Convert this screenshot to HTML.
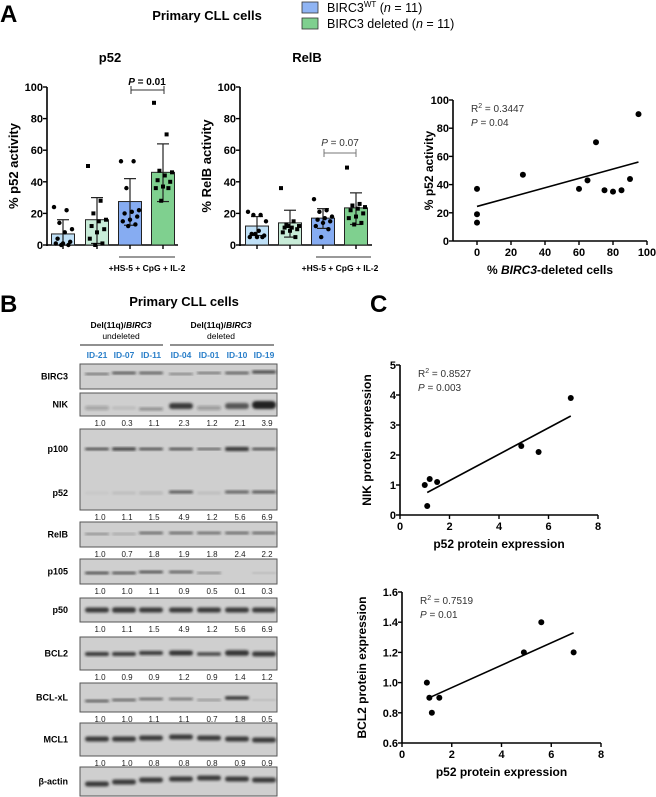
<!DOCTYPE html>
<html><head><meta charset="utf-8">
<style>
body{margin:0;background:#fff;}
svg{display:block;font-family:"Liberation Sans",Arial,sans-serif;}
.b{font-weight:bold;}
</style></head>
<body>
<svg id="fig" width="656" height="797" viewBox="0 0 656 797" xmlns="http://www.w3.org/2000/svg">
<defs><filter id="blur" x="-20%" y="-50%" width="140%" height="200%"><feGaussianBlur stdDeviation="1.3"/></filter></defs>
<text x="0" y="22" font-size="24" class="b">A</text>
<text x="207" y="20" font-size="13" class="b" text-anchor="middle">Primary CLL cells</text>
<rect x="302" y="2" width="16" height="11" fill="#8fb4f4" stroke="#333" stroke-width="0.8"/>
<text x="327" y="12" font-size="12.5">BIRC3<tspan font-size="8" dy="-5">WT</tspan><tspan dy="5"> (</tspan><tspan font-style="italic">n</tspan> = 11)</text>
<rect x="302" y="18" width="16" height="11" fill="#7fd08f" stroke="#333" stroke-width="0.8"/>
<text x="327" y="28" font-size="12.5">BIRC3 deleted (<tspan font-style="italic">n</tspan> = 11)</text>
<g id="charts"></g>
<text x="0" y="312" font-size="24" class="b">B</text>
<text x="184" y="306" font-size="13" class="b" text-anchor="middle">Primary CLL cells</text>
<text x="121" y="328" font-size="8.5" class="b" text-anchor="middle">Del(11q)/<tspan font-style="italic">BIRC3</tspan></text>
<text x="121" y="339" font-size="8.5" text-anchor="middle">undeleted</text>
<text x="221" y="328" font-size="8.5" class="b" text-anchor="middle">Del(11q)/<tspan font-style="italic">BIRC3</tspan></text>
<text x="221" y="339" font-size="8.5" text-anchor="middle">deleted</text>
<line x1="80" y1="345" x2="163" y2="345" stroke="#222" stroke-width="1"/>
<line x1="170" y1="345" x2="274" y2="345" stroke="#222" stroke-width="1"/>
<g id="blots"></g>
<text x="370" y="312" font-size="24" class="b">C</text>
</svg>
<script>
const NS="http://www.w3.org/2000/svg";
// ---- Panel A bar charts data ----
const barCats=["Unstim WT","Unstim deleted","Stim WT","Stim deleted"];
const p52Means=[7,16,27.5,46];
const p52ErrHi=[16,30,42,64];
const p52ErrLo=[0,1,12.5,27.5];
const p52Pts=[[24,22,14,10,8,4,2,1,1,0,0],[50,28,20,16,15,12,10,8,4,1,0],[53,53,36,22,21,20,18,16,15,13,12],[90,70,47,46,44,41,40,37,36,36,28]];
const relbMeans=[12,14,17,23.5];
const relbErrHi=[18,22,23,33];
const relbErrLo=[6,5,10.5,13];
const relbPts=[[21,19,19,15,9,7,6,5,5,5,7],[36,15,13,12,11,11,10,9,8,5,12],[29,22,21,18,17,16,15,14,12,10,5],[49,26,25,24,23,22,20,18,17,14,13]];
const barTicks=[0,20,40,60,80,100];
// ---- Panel A scatter ----
const delPct=[0,0,0,27,60,65,70,75,80,85,90,95];
const delP52=[37,19,13,47,37,43,70,36,35,36,44,90];
const delFit=[24.5,56];
const delXTicks=[0,20,40,60,80,100];
const delYTicks=[0,20,40,60,80,100];
// ---- Panel C ----
const p52Expr=[1.0,1.1,1.5,4.9,1.2,5.6,6.9];
const nikExpr=[1.0,0.3,1.1,2.3,1.2,2.1,3.9];
const bcl2Expr=[1.0,0.9,0.9,1.2,0.8,1.4,1.2];
const nikFit=[0.75,3.3];
const bcl2Fit=[0.9,1.33];
const cXTicks=[0,2,4,6,8];
const nikYTicks=[0,1,2,3,4,5];
const bcl2YTicks=[0.6,0.8,1.0,1.2,1.4,1.6];
// ---- Panel B blots ----
const sampleIds=["ID-21","ID-07","ID-11","ID-04","ID-01","ID-10","ID-19"];
const nikQuant=["1.0","0.3","1.1","2.3","1.2","2.1","3.9"];
const p52Quant=["1.0","1.1","1.5","4.9","1.2","5.6","6.9"];
const relbQuant=["1.0","0.7","1.8","1.9","1.8","2.4","2.2"];
const p105Quant=["1.0","1.0","1.1","0.9","0.5","0.1","0.3"];
const p50Quant=["1.0","1.1","1.5","4.9","1.2","5.6","6.9"];
const bcl2Quant=["1.0","0.9","0.9","1.2","0.9","1.4","1.2"];
const bclxlQuant=["1.0","1.0","1.1","1.1","0.7","1.8","0.5"];
const mcl1Quant=["1.0","1.0","0.8","0.8","0.8","0.9","0.9"];

function el(tag,attrs,parent,text){const e=document.createElementNS(NS,tag);for(const k in attrs)e.setAttribute(k,attrs[k]);if(text!==undefined)e.textContent=text;(parent||document.getElementById('charts')).appendChild(e);return e;}
const G=document.getElementById('charts');

function barChart(axX,xEnd,y0px,y100px,centers,means,hi,lo,pts,colors,name,ylabel,title,titleX){
  const sy=v=>y0px+(y100px-y0px)*v/100;
  let a=el('line',{x1:axX,y1:y100px,x2:axX,y2:y0px+1,stroke:'#000','stroke-width':1.6});
  
  a=el('line',{x1:axX,y1:y0px,x2:xEnd,y2:y0px,stroke:'#000','stroke-width':1.6});
  
  barTicks.forEach(t=>{el('line',{x1:axX-4,y1:sy(t),x2:axX,y2:sy(t),stroke:'#000','stroke-width':1.4});
    const tx=el('text',{x:axX-4,y:sy(t)+4,'font-size':11,'font-weight':'bold','text-anchor':'end'},G,t);
    });
  const w=23;
  means.forEach((m,i)=>{const c=centers[i];
    const r=el('rect',{x:c-w/2,y:sy(m),width:w,height:y0px-sy(m),fill:colors[i],stroke:'#222','stroke-width':1});
    
    el('line',{x1:c,y1:sy(hi[i]),x2:c,y2:sy(lo[i]),stroke:'#222','stroke-width':1.2});
    el('line',{x1:c-6,y1:sy(hi[i]),x2:c+6,y2:sy(hi[i]),stroke:'#222','stroke-width':1.2});
    el('line',{x1:c-6,y1:sy(lo[i]),x2:c+6,y2:sy(lo[i]),stroke:'#222','stroke-width':1.2});
    el('line',{x1:c,y1:y0px,x2:c,y2:y0px+4,stroke:'#000','stroke-width':1.4});
    pts[i].forEach((v,j)=>{const dx=((j*7)%11-5)*1.8;
      let p;
      if(i%2===0)p=el('circle',{cx:c+dx,cy:sy(v),r:2.2,fill:'#000'});
      else p=el('rect',{x:c+dx-2,y:sy(v)-2,width:4,height:4,fill:'#000'});
      });
  });
  const yl=el('text',{x:0,y:0,'font-size':13,'font-weight':'bold','text-anchor':'middle',transform:`translate(${axX-29},${(y0px+y100px)/2}) rotate(-90)`},G,ylabel);
  
  const tt=el('text',{x:titleX,y:62,'font-size':13,'font-weight':'bold','text-anchor':'middle'},G,title);
  
}
barChart(47,178,245,87,[63,97,130,163],p52Means,p52ErrHi,p52ErrLo,p52Pts,['#bfe0f7','#c8ecd8','#86acf2','#7fd08f'],'p52-chart','% p52 activity','p52',110);
barChart(240,372,245,87,[257,290,323,356],relbMeans,relbErrHi,relbErrLo,relbPts,['#bfe0f7','#c8ecd8','#86acf2','#7fd08f'],'relb-chart','% RelB activity','RelB',307);
// brackets and annotations
function ann(){
 el('line',{x1:131,y1:90,x2:164,y2:90,stroke:'#333','stroke-width':1});
 el('line',{x1:131,y1:86,x2:131,y2:94,stroke:'#333','stroke-width':1});
 el('line',{x1:164,y1:86,x2:164,y2:94,stroke:'#333','stroke-width':1});
 let t=el('text',{x:147,y:85,'font-size':10,'font-weight':'bold','text-anchor':'middle'},G);t.innerHTML='<tspan font-style="italic">P</tspan> = 0.01';
 
 el('line',{x1:324,y1:153,x2:356,y2:153,stroke:'#777','stroke-width':1});
 el('line',{x1:324,y1:149,x2:324,y2:157,stroke:'#777','stroke-width':1});
 el('line',{x1:356,y1:149,x2:356,y2:157,stroke:'#777','stroke-width':1});
 t=el('text',{x:340,y:146,'font-size':10,'text-anchor':'middle',fill:'#333'},G);t.innerHTML='<tspan font-style="italic">P</tspan> = 0.07';
 
 el('line',{x1:119,y1:257,x2:175,y2:257,stroke:'#333','stroke-width':1});
 t=el('text',{x:147,y:271,'font-size':8.5,'font-weight':'bold','text-anchor':'middle'},G,'+HS-5 + CpG + IL-2');
 
 el('line',{x1:316,y1:257,x2:371,y2:257,stroke:'#333','stroke-width':1});
 t=el('text',{x:340,y:271,'font-size':8.5,'font-weight':'bold','text-anchor':'middle'},G,'+HS-5 + CpG + IL-2');
 
}
ann();

function scatter(name,axX,x0px,x1px,xMin,xMax,y0px,y1px,yMin,yMax,xTicks,yTicks,xs,ys,fit,fitX,xlabelHtml,ylabel,r2,pv,ylabX,dec){
  const sx=v=>x0px+(x1px-x0px)*(v-xMin)/(xMax-xMin);
  const sy=v=>y0px+(y1px-y0px)*(v-yMin)/(yMax-yMin);
  let a=el('line',{x1:axX,y1:y1px,x2:axX,y2:y0px,stroke:'#000','stroke-width':1.6});
  
  a=el('line',{x1:axX,y1:y0px,x2:x1px,y2:y0px,stroke:'#000','stroke-width':1.6});
  
  xTicks.forEach(t=>{el('line',{x1:sx(t),y1:y0px,x2:sx(t),y2:y0px+4,stroke:'#000','stroke-width':1.4});
    const tx=el('text',{x:sx(t),y:y0px+15,'font-size':11,'font-weight':'bold','text-anchor':'middle'},G,t);
    });
  yTicks.forEach(t=>{el('line',{x1:axX-4,y1:sy(t),x2:axX,y2:sy(t),stroke:'#000','stroke-width':1.4});
    const tx=el('text',{x:axX-4,y:sy(t)+4,'font-size':11,'font-weight':'bold','text-anchor':'end'},G,t.toFixed(dec));
    });
  xs.forEach((x,i)=>{const p=el('circle',{cx:sx(x),cy:sy(ys[i]),r:3,fill:'#000'});
    });
  const l=el('line',{x1:sx(fitX[0]),y1:sy(fit[0]),x2:sx(fitX[1]),y2:sy(fit[1]),stroke:'#000','stroke-width':1.6});
  
  const xl=el('text',{x:(axX+x1px)/2,y:y0px+33,'font-size':12,'font-weight':'bold','text-anchor':'middle'},G);xl.innerHTML=xlabelHtml;
  
  const yl=el('text',{x:0,y:0,'font-size':12,'font-weight':'bold','text-anchor':'middle',transform:`translate(${ylabX},${(y0px+y1px)/2}) rotate(-90)`},G,ylabel);
  
  let t=el('text',{x:axX+18,y:y1px+12,'font-size':10,fill:'#333'},G);t.innerHTML='R<tspan font-size="7" dy="-4">2</tspan><tspan dy="4"> = '+r2+'</tspan>';
  
  t=el('text',{x:axX+18,y:y1px+26,'font-size':10,fill:'#333'},G);t.innerHTML='<tspan font-style="italic">P</tspan> = '+pv;
  
}
scatter('deletion-scatter',453,477,647,0,100,241,100,0,100,delXTicks,delYTicks,delPct,delP52,delFit,[0,95],'% <tspan font-style="italic">BIRC3</tspan>-deleted cells','% p52 activity','0.3447','0.04',433,0);
scatter('nik-scatter',400,400,598,0,8,515,365,0,5,cXTicks,nikYTicks,p52Expr,nikExpr,nikFit,[1.1,6.9],'p52 protein expression','NIK protein expression','0.8527','0.003',371,0);
scatter('bcl2-scatter',402,402,601,0,8,743,592,0.6,1.6,cXTicks,bcl2YTicks,p52Expr,bcl2Expr,bcl2Fit,[1.1,6.9],'p52 protein expression','BCL2 protein expression','0.7519','0.01',366,1);

// ---- Blots ----
const B=document.getElementById('blots');
const laneX=[97,124,151,181,209,237,264];
sampleIds.forEach((id,i)=>{const t=el('text',{x:laneX[i],y:358,'font-size':8.5,'font-weight':'bold',fill:'#2a7fc9','text-anchor':'middle'},B,id);
  });
const bandRows=[
 {n:'BIRC3',y0:364,y1:389,bands:[[374,0.6,2],[373,0.75,2.5],[373,0.7,2.5],[374,0.5,2],[373,0.6,2],[373,0.7,2.5],[372,0.8,3]]},
 {n:'NIK',y0:393,y1:416,bands:[[408,0.25,4],[408,0.1,3],[409,0.4,3],[406,0.85,6],[408,0.3,4],[406,0.7,6],[405,1,8]],q:nikQuant},
 {n:'p100/p52',y0:429,y1:510,bands:[[449,0.8,2.5],[449,0.85,3],[449,0.8,2.5],[449,0.8,2.5],[449,0.75,2],[449,0.9,4],[449,0.8,2.5]],q:p52Quant},
 {n:'RelB',y0:522,y1:547,bands:[[534,0.45,2],[534,0.25,2],[533,0.65,2.5],[533,0.65,2.5],[533,0.6,2.5],[533,0.65,2.5],[533,0.65,2.5]],q:relbQuant},
 {n:'p105',y0:559,y1:584,bands:[[573,0.8,2.5],[573,0.75,2.5],[572,0.8,2.5],[572,0.7,2.5],[573,0.45,2],[573,0.0,1],[573,0.15,1.5]],q:p105Quant},
 {n:'p50',y0:598,y1:622,bands:[[610,0.85,5],[610,0.85,5.5],[610,0.85,5],[610,0.85,5],[610,0.85,5],[610,0.85,5],[610,0.85,5]],q:p50Quant},
 {n:'BCL2',y0:637,y1:670,bands:[[654,0.85,4],[654,0.85,4],[653,0.85,4],[653,0.9,5],[654,0.8,3.5],[653,0.9,5.5],[654,0.85,5]],q:bcl2Quant},
 {n:'BCL-xL',y0:683,y1:712,bands:[[701,0.7,2.5],[700,0.65,2.5],[699,0.6,2.5],[699,0.55,2.5],[700,0.35,2],[698,0.9,3.5],[700,0.15,1.5]],q:bclxlQuant},
 {n:'MCL1',y0:723,y1:756,bands:[[739,0.85,5],[739,0.85,5],[738,0.85,5],[737,0.85,5],[738,0.85,5],[739,0.85,5],[740,0.85,5]],q:mcl1Quant},
 {n:'β-actin',y0:767,y1:796,bands:[[784,0.85,5],[782,0.85,5],[780,0.85,5],[779,0.85,5],[778,0.85,5],[779,0.85,5],[780,0.85,5]]}
];
bandRows.forEach((r,ri)=>{
  const box=el('rect',{x:80,y:r.y0,width:197,height:r.y1-r.y0,fill:'#cfcfcf',stroke:'#555','stroke-width':1},B);
  
  r.bands.forEach((b,i)=>{if(b[1]<=0.02)return;
    el('rect',{x:laneX[i]-12,y:b[0]-b[2]/2,width:24,height:b[2],rx:b[2]/2,fill:'#222','fill-opacity':b[1],filter:'url(#blur)'},B);});
  if(r.n==='p100/p52'){
    const p52b=[[493,0.05],[493,0.1],[493,0.15],[492,0.8],[493,0.1],[492,0.75],[492,0.8]];
    p52b.forEach((b,i)=>{el('rect',{x:laneX[i]-12,y:b[0]-1.3,width:24,height:2.6,rx:1.3,fill:'#222','fill-opacity':b[1],filter:'url(#blur)'},B);});
    let t=el('text',{x:68,y:452,'font-size':9,'font-weight':'bold','text-anchor':'end'},B,'p100');
    t=el('text',{x:68,y:496,'font-size':9,'font-weight':'bold','text-anchor':'end'},B,'p52');
  } else {
    const t=el('text',{x:68,y:(r.y0+r.y1)/2+3,'font-size':9,'font-weight':'bold','text-anchor':'end'},B,r.n);
    
  }
  if(r.q){r.q.forEach((v,i)=>{const t=el('text',{x:laneX[i]+3,y:r.y1+10,'font-size':8,'text-anchor':'middle',fill:'#222'},B,v);
    });}
});
</script>
</body></html>
